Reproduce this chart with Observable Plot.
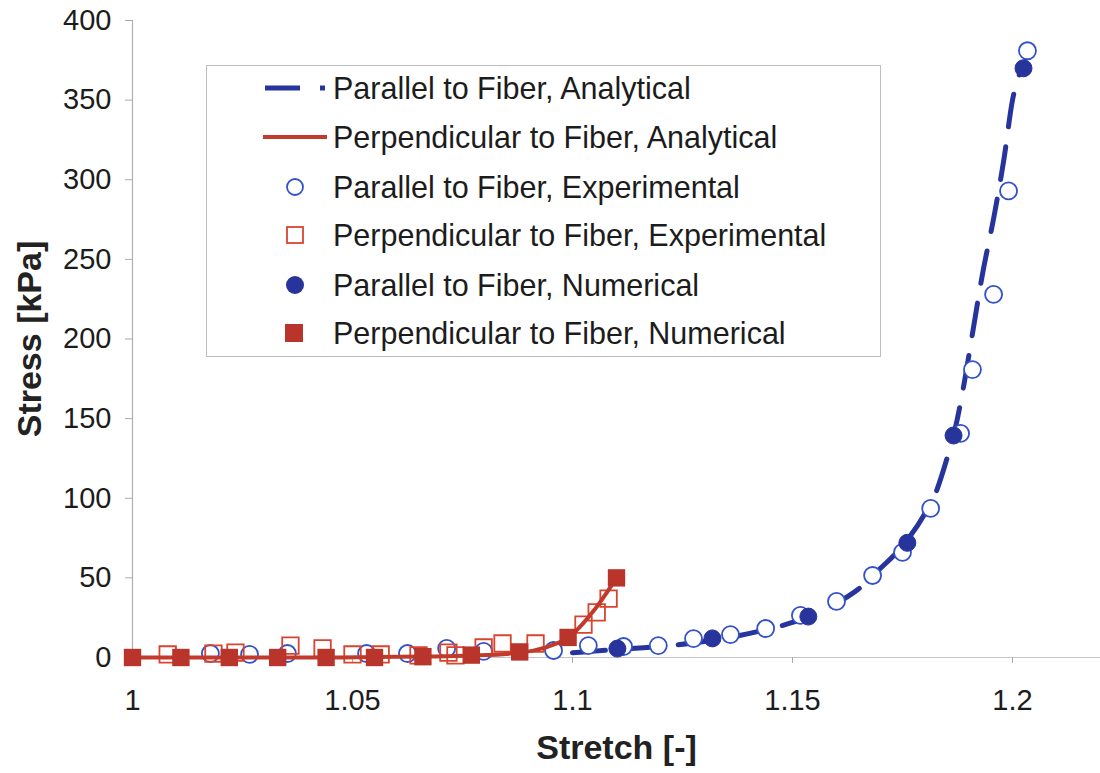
<!DOCTYPE html>
<html>
<head>
<meta charset="utf-8">
<script src="https://cdn.jsdelivr.net/npm/d3@7"></script>
<script src="https://cdn.jsdelivr.net/npm/@observablehq/plot@0.6"></script>
<style>
  html, body { margin: 0; padding: 0; background: #fff; }
  #wrap { position: relative; width: 1100px; height: 773px; font-family: "Liberation Sans", Arial, sans-serif; }
  #legend { position: absolute; left: 206px; top: 65px; }
</style>
</head>
<body>
<div id="wrap"><div id="chart"></div><div id="legend"></div></div>
<script>
// ---- data ----
const parAnalyticalStretch = [1.1, 1.105, 1.11, 1.12, 1.13, 1.14, 1.15, 1.155, 1.16, 1.165, 1.17, 1.175, 1.18, 1.1825, 1.185, 1.187, 1.189, 1.191, 1.193, 1.196, 1.198, 1.2, 1.2025];
const parAnalyticalStress  = [3, 4, 5, 7, 10, 15, 22, 27, 34, 43, 56, 70, 90, 103, 124, 144, 172, 205, 238, 280, 312, 350, 372];

const perpAnalyticalStretch = [1.0, 1.011, 1.022, 1.033, 1.044, 1.055, 1.066, 1.077, 1.088, 1.099, 1.105, 1.11];
const perpAnalyticalStress  = [0, 0, 0, 0, 0, 0.3, 0.6, 1.2, 3, 12.5, 30, 50];

const parExpStretch = [1.0177, 1.0266, 1.0352, 1.0532, 1.0625, 1.0714, 1.0798, 1.0957, 1.1036, 1.1116, 1.1195, 1.1275, 1.1359, 1.1439, 1.1518, 1.16, 1.1682, 1.175, 1.1814, 1.1882, 1.1909, 1.1957, 1.1991, 1.2034];
const parExpStress  = [2.5, 1.9, 2.5, 2.5, 2.5, 5.7, 3.8, 4.4, 7.5, 6.9, 7.5, 11.9, 14.4, 18.2, 26.4, 35.2, 51.5, 66, 93.6, 140.7, 180.8, 228, 293, 381];

const perpExpStretch = [1.008, 1.0184, 1.0234, 1.0359, 1.0432, 1.05, 1.0564, 1.065, 1.0718, 1.0734, 1.0798, 1.0841, 1.0916, 1.1025, 1.1055, 1.1082];
const perpExpStress  = [1.9, 2.5, 3.1, 7.5, 5.7, 1.9, 1.9, 1.3, 3.1, 1.3, 6.3, 8.8, 8.8, 20.7, 28.3, 37];

const parNumStretch = [1.1102, 1.1318, 1.1536, 1.1761, 1.1866, 1.2025];
const parNumStress  = [5.6, 12, 25.7, 72, 139.4, 370];

const perpNumStretch = [1.0, 1.011, 1.022, 1.033, 1.044, 1.055, 1.066, 1.077, 1.088, 1.099, 1.11];
const perpNumStress  = [0, 0, 0, 0, 0, 0, 0.5, 1.5, 3.5, 12.6, 50];

const xTicks = [1, 1.05, 1.1, 1.15, 1.2];
const yTicks = [0, 50, 100, 150, 200, 250, 300, 350, 400];
const xTitle = "Stretch [-]";
const yTitle = "Stress [kPa]";
const legendLabels = [
  "Parallel to Fiber, Analytical",
  "Perpendicular to Fiber, Analytical",
  "Parallel to Fiber, Experimental",
  "Perpendicular to Fiber, Experimental",
  "Parallel to Fiber, Numerical",
  "Perpendicular to Fiber, Numerical"
];

const BLUE = "#27349c", BLUE_OPEN = "#3352c8", RED = "#c23a2b", RED_OPEN = "#d9442f", RED_FILL = "#b9342a";

const zip = (xs, ys) => xs.map((x, i) => ({x, y: ys[i]}));
const parAn = zip(parAnalyticalStretch, parAnalyticalStress);
const perpAn = zip(perpAnalyticalStretch, perpAnalyticalStress);
const parExp = zip(parExpStretch, parExpStress);
const perpExp = zip(perpExpStretch, perpExpStress);
const parNum = zip(parNumStretch, parNumStress);
const perpNum = zip(perpNumStretch, perpNumStress);

const chart = Plot.plot({
  width: 1100, height: 773,
  marginLeft: 132, marginRight: 0, marginTop: 20, marginBottom: 116,
  style: {fontFamily: '"Liberation Sans", Arial, sans-serif', fontSize: "29px", color: "#1c1c1c", background: "#fff", overflow: "visible"},
  x: {domain: [1, 1.22]},
  y: {domain: [0, 400]},
  marks: [
    Plot.ruleY([0], {stroke: "#c4c4c4", strokeWidth: 1.2}),
    Plot.ruleX([1], {stroke: "#b0b0b0", strokeWidth: 1.2}),
    Plot.axisX({ticks: xTicks, tickFormat: d => String(d), tickSize: 6, tickPadding: 26, stroke: "#aaa", fontSize: 29, label: null}),
    Plot.axisY({ticks: yTicks, tickFormat: d => String(d), tickSize: 7, tickPadding: 14, stroke: "#aaa", fontSize: 29, label: null}),
    Plot.text([xTitle], {frameAnchor: "bottom", dy: 91, fontSize: 34, fontWeight: "bold", lineAnchor: "middle", textAnchor: "middle", fill: "#222"}),
    Plot.text([yTitle], {frameAnchor: "left", dx: -102, rotate: -90, fontSize: 34, fontWeight: "bold", lineAnchor: "middle", textAnchor: "middle", fill: "#222"}),
    Plot.line(parAn, {x: "x", y: "y", stroke: BLUE, strokeWidth: 5, strokeDasharray: "33,20", curve: "monotone-x"}),
    Plot.dot(parExp, {x: "x", y: "y", r: 8.5, stroke: BLUE_OPEN, strokeWidth: 1.8, fill: "#fff"}),
    Plot.dot(parNum, {x: "x", y: "y", r: 8.5, fill: BLUE, stroke: BLUE, strokeWidth: 1}),
    Plot.dot(perpExp, {x: "x", y: "y", r: 9.3, symbol: "square", stroke: RED_OPEN, strokeWidth: 1.8, fill: "none"}),
    Plot.line(perpAn, {x: "x", y: "y", stroke: RED, strokeWidth: 4, curve: "monotone-x"}),
    Plot.dot(perpNum, {x: "x", y: "y", r: 9.8, symbol: "square", fill: RED_FILL})
  ]
});
document.getElementById("chart").appendChild(chart);

// ---- legend overlay ----
const LW = 674, LH = 291;
const rowY = [23, 72, 122, 170, 220, 268];
const leg = d3.select("#legend").append("svg").attr("width", LW + 2).attr("height", LH + 2)
  .style("font-family", '"Liberation Sans", Arial, sans-serif');
leg.append("rect").attr("x", 0.5).attr("y", 0.5).attr("width", LW).attr("height", LH)
  .attr("fill", "#fff").attr("stroke", "#bdbdbd").attr("stroke-width", 1);
// symbols
leg.append("line").attr("x1", 59).attr("x2", 94).attr("y1", rowY[0]).attr("y2", rowY[0]).attr("stroke", BLUE).attr("stroke-width", 5);
leg.append("line").attr("x1", 114).attr("x2", 119).attr("y1", rowY[0]).attr("y2", rowY[0]).attr("stroke", BLUE).attr("stroke-width", 5);
leg.append("line").attr("x1", 57).attr("x2", 121).attr("y1", rowY[1]).attr("y2", rowY[1]).attr("stroke", RED).attr("stroke-width", 4);
leg.append("circle").attr("cx", 89).attr("cy", rowY[2]).attr("r", 8).attr("fill", "#fff").attr("stroke", BLUE_OPEN).attr("stroke-width", 1.8);
leg.append("rect").attr("x", 81).attr("y", rowY[3] - 8).attr("width", 16).attr("height", 16).attr("fill", "none").attr("stroke", RED_OPEN).attr("stroke-width", 1.8);
leg.append("circle").attr("cx", 89).attr("cy", rowY[4]).attr("r", 9).attr("fill", BLUE);
leg.append("rect").attr("x", 79).attr("y", rowY[5] - 9).attr("width", 18).attr("height", 18).attr("fill", RED_FILL);
leg.selectAll("text.lab").data(legendLabels).join("text")
  .attr("class", "lab")
  .attr("x", 127).attr("y", (d, i) => rowY[i]).attr("dy", "0.36em")
  .attr("font-size", 30.5).attr("fill", "#1c1c1c")
  .text(d => d);
</script>
</body>
</html>
